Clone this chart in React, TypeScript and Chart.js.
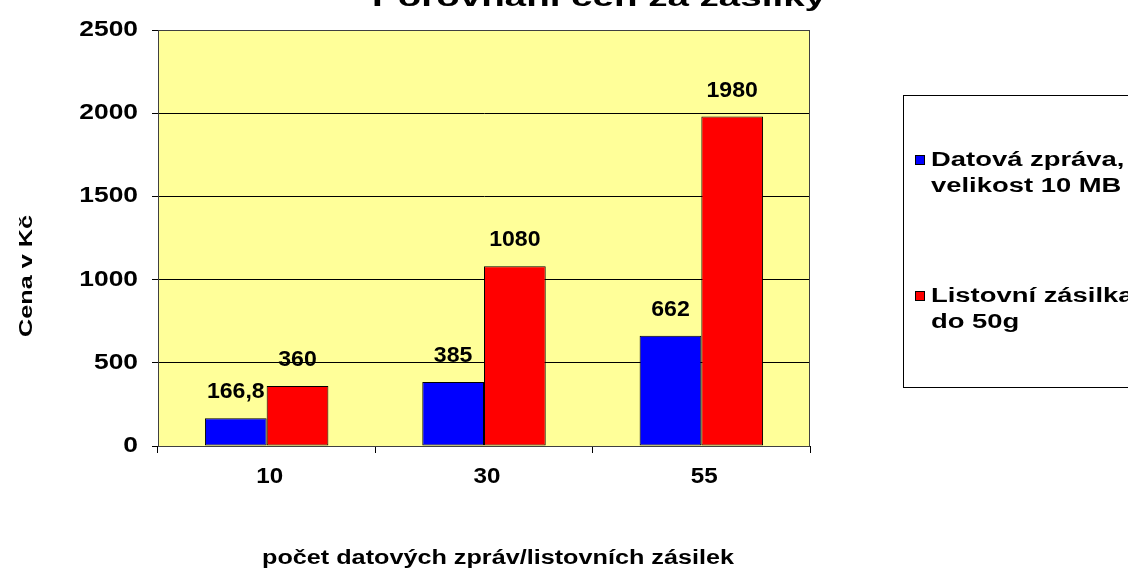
import React, { useEffect, useRef } from "react";
import { Chart, registerables } from "chart.js";

Chart.register(...registerables);

const TITLE = "Porovnání cen za zásilky";
const CATEGORIES = ["10", "30", "55"];
const SERIES_1_NAME = ["Datová zpráva,", "velikost 10 MB"];
const SERIES_2_NAME = ["Listovní zásilka", "do 50g"];
const DATOVA_ZPRAVA = [166.8, 385, 662];
const LISTOVNI_ZASILKA = [360, 1080, 1980];
const Y_MIN = 0;
const Y_MAX = 2500;
const Y_STEP = 500;
const Y_TITLE = "Cena v Kč";
const X_TITLE = "počet datových zpráv/listovních zásilek";

const BLUE = "#0000FF";
const RED = "#FF0000";
const PLOT_BG = "#FFFF99";
const FONT = '"Liberation Sans", Arial, sans-serif';

function txt(
  ctx: CanvasRenderingContext2D,
  s: string,
  x: number,
  y: number,
  size: number,
  sx: number,
  align: CanvasTextAlign,
  baseline: CanvasTextBaseline,
  rot = 0
) {
  ctx.save();
  ctx.translate(x, y);
  if (rot) ctx.rotate(rot);
  ctx.scale(sx, 1);
  ctx.font = `bold ${size}px ${FONT}`;
  ctx.fillStyle = "#000";
  ctx.textAlign = align;
  ctx.textBaseline = baseline;
  ctx.fillText(s, 0, 0);
  ctx.restore();
}

const fmt = (v: number) => String(v).replace(".", ",");

const decorPlugin = {
  id: "decor",
  beforeDraw(chart: any) {
    const { ctx, chartArea: a } = chart;
    ctx.save();
    ctx.fillStyle = "#fff";
    ctx.fillRect(0, 0, chart.width, chart.height);
    ctx.fillStyle = PLOT_BG;
    ctx.fillRect(a.left, a.top, a.right - a.left, a.bottom - a.top);
    ctx.restore();
  },
  afterDraw(chart: any) {
    const { ctx, chartArea: a } = chart;
    const xs = chart.scales.x;
    const ys = chart.scales.y;

    // plot border
    ctx.save();
    ctx.strokeStyle = "#404040";
    ctx.lineWidth = 1;
    ctx.strokeRect(Math.round(a.left) + 0.5, Math.round(a.top) + 0.5, Math.round(a.right - a.left) - 1, Math.round(a.bottom - a.top));
    ctx.restore();

    // y tick labels
    ys.ticks.forEach((t: any) => {
      const y = ys.getPixelForValue(t.value);
      txt(ctx, String(t.value), a.left - 20, y, 22, 1.2, "right", "middle");
    });

    // x tick labels
    CATEGORIES.forEach((c, i) => {
      const x = xs.getPixelForValue(i);
      txt(ctx, c, x + 3, 477, 22, 1.1, "center", "middle");
    });

    // data labels
    chart.data.datasets.forEach((ds: any, di: number) => {
      const meta = chart.getDatasetMeta(di);
      meta.data.forEach((bar: any, i: number) => {
        txt(ctx, fmt(ds.data[i]), bar.x, bar.y - 26, 22, 1.05, "center", "middle");
      });
    });

    // axis titles
    txt(ctx, Y_TITLE, 27, (a.top + a.bottom) / 2 + 38, 18, 1.4, "center", "middle", -Math.PI / 2);
    txt(ctx, X_TITLE, 498, 564, 20, 1.26, "center", "alphabetic");

    // title (mostly cut off at the top)
    ctx.save();
    ctx.font = `bold 26px ${FONT}`;
    const tw = ctx.measureText(TITLE).width;
    ctx.restore();
    txt(ctx, TITLE, 599, 6, 26, 454 / tw, "center", "alphabetic");

    // legend
    ctx.save();
    ctx.fillStyle = "#fff";
    ctx.fillRect(903, 95, 300, 293);
    ctx.strokeStyle = "#000";
    ctx.lineWidth = 1;
    ctx.strokeRect(903.5, 95.5, 300, 292);
    const items = [
      { color: BLUE, lines: SERIES_1_NAME, y: 160 },
      { color: RED, lines: SERIES_2_NAME, y: 296 },
    ];
    items.forEach((it) => {
      ctx.fillStyle = it.color;
      ctx.fillRect(916, it.y - 4, 8, 8);
      ctx.strokeStyle = "#000";
      ctx.strokeRect(915.5, it.y - 4.5, 9, 9);
      it.lines.forEach((ln, k) => {
        txt(ctx, ln, 931, it.y + k * 26, 20, 1.37, "left", "middle");
      });
    });
    ctx.restore();
  },
};

export default function App() {
  const ref = useRef<HTMLCanvasElement | null>(null);

  useEffect(() => {
    if (!ref.current) return;
    const chart = new Chart(ref.current, {
      type: "bar",
      data: {
        labels: CATEGORIES,
        datasets: [
          {
            label: SERIES_1_NAME.join(" "),
            data: DATOVA_ZPRAVA,
            backgroundColor: BLUE,
            borderColor: "#000",
            borderWidth: 1,
            borderSkipped: false,
          },
          {
            label: SERIES_2_NAME.join(" "),
            data: LISTOVNI_ZASILKA,
            backgroundColor: RED,
            borderColor: "#000",
            borderWidth: 1,
            borderSkipped: false,
          },
        ],
      },
      options: {
        responsive: false,
        animation: false,
        devicePixelRatio: 1,
        layout: { padding: { top: 30, right: 318, left: 0, bottom: 0 } },
        datasets: { bar: { barPercentage: 1.0, categoryPercentage: 0.568 } },
        plugins: {
          legend: { display: false },
          title: { display: false },
          tooltip: { enabled: false },
        },
        scales: {
          x: {
            grid: {
              offset: true,
              drawOnChartArea: false,
              drawTicks: true,
              tickLength: 7,
              color: "#000",
            },
            border: { display: true, color: "#000" },
            ticks: { display: false },
            afterFit: (s: any) => {
              s.height = 123;
            },
          },
          y: {
            min: Y_MIN,
            max: Y_MAX,
            ticks: { display: false, stepSize: Y_STEP },
            grid: { color: "#000", tickLength: 6, drawTicks: true },
            border: { display: true, color: "#000" },
            afterFit: (s: any) => {
              s.width = 158;
            },
          },
        },
      },
      plugins: [decorPlugin],
    });
    return () => chart.destroy();
  }, []);

  return (
    <div style={{ position: "fixed", left: 0, top: 0, width: 1128, height: 569, background: "#fff" }}>
      <canvas ref={ref} width={1128} height={569} style={{ display: "block" }} />
    </div>
  );
}
